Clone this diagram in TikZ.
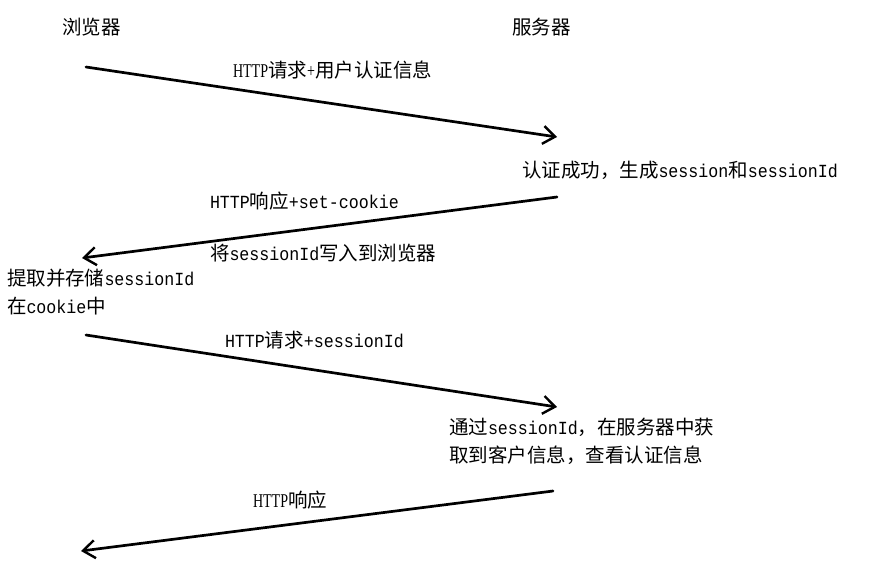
\documentclass[tikz,border=0pt]{standalone}
\usepackage{fontspec}
\setmainfont{Liberation Serif}
\newfontfamily\cjkfam{Noto Sans CJK SC}
\newfontfamily\monofam[FakeStretch=0.9]{Liberation Mono}
\newfontfamily\tmfam[FakeStretch=0.72]{Liberation Serif}
\usetikzlibrary{arrows.meta}
\newcommand\zh[1]{{\cjkfam\fontsize{19.5}{28}\selectfont #1}}
\newcommand\mn[1]{{\monofam\fontsize{18.5}{28}\selectfont #1}}
\newcommand\tm[1]{{\tmfam\fontsize{19.5}{28}\selectfont #1}}
\tikzset{
  lbl/.style={anchor=west, inner sep=0pt, outer sep=0pt, align=left, font=\fontsize{19.5}{28}\selectfont},
  msg/.style={line width=2.7pt, -{Straight Barb[length=12pt,width=18pt,line width=2.4pt]}, line cap=round}
}
\begin{document}
\begin{tikzpicture}[x=1pt,y=-1pt]
\useasboundingbox (0,0) rectangle (894,579);
% headers
\node[lbl] (browser) at (62,27) {\zh{浏览器}};
\node[lbl] (server) at (512,27) {\zh{服务器}};
% endpoints
\coordinate (b1) at (86,67);
\coordinate (s1) at (557,137);
\coordinate (s2) at (557,197);
\coordinate (b2) at (82,258);
\coordinate (b3) at (86,335);
\coordinate (s3) at (557,407);
\coordinate (s4) at (553,491);
\coordinate (b4) at (81,551);
% arrows
\draw[msg] (b1) -- (s1);
\draw[msg] (s2) -- (b2);
\draw[msg] (b3) -- (s3);
\draw[msg] (s4) -- (b4);
% labels
\node[lbl] (l1) at (233,70) {\tm{HTTP}\zh{请求}\tm{+}\zh{用户认证信息}};
\node[lbl] (n1) at (522,170) {\zh{认证成功，生成}\mn{session}\zh{和}\mn{sessionId}};
\node[lbl] (l2) at (210,201) {\mn{HTTP}\zh{响应}\mn{+set-cookie}};
\node[lbl] (l2b) at (210,253) {\zh{将}\mn{sessionId}\zh{写入到浏览器}};
\node[lbl] (n2) at (7,292) {\zh{提取并存储}\mn{sessionId}\\\zh{在}\mn{cookie}\zh{中}};
\node[lbl] (l3) at (225,340) {\mn{HTTP}\zh{请求}\mn{+sessionId}};
\node[lbl] (n3) at (449,441) {\zh{通过}\mn{sessionId}\zh{，在服务器中获}\\\zh{取到客户信息，查看认证信息}};
\node[lbl] (l4) at (253,500) {\tm{HTTP}\zh{响应}};
\end{tikzpicture}
\end{document}
